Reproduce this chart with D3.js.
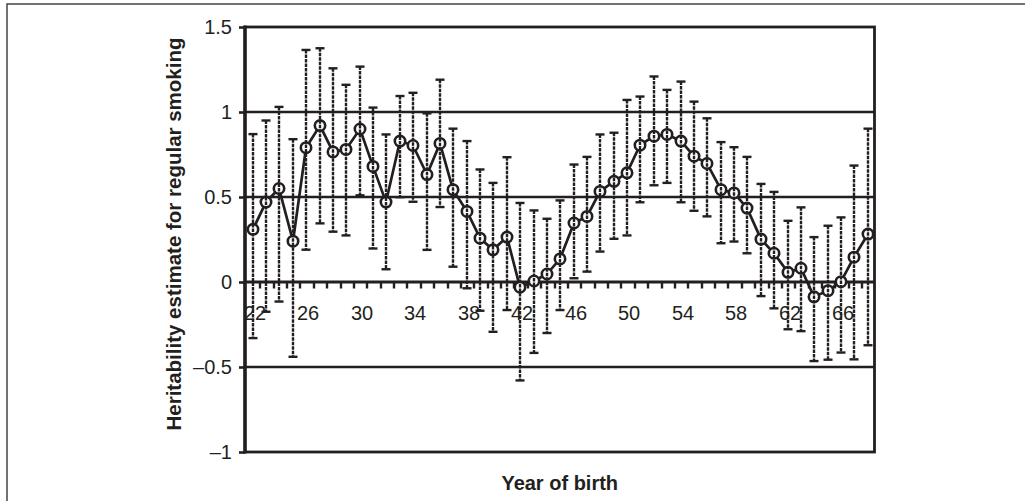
<!DOCTYPE html>
<html>
<head>
  <meta charset="utf-8">
  <title>Heritability by year of birth</title>
  <style>
    body { margin: 0; background: #fff; }
    svg text { font-family: "Liberation Sans", Arial, Helvetica, sans-serif; fill: #231f20; }
  </style>
  <script src="https://d3js.org/d3.v7.min.js"></script>
</head>
<body>
  <svg id="chart" width="1025" height="501"></svg>
  <script>
    // birth years (19xx) and estimates
    const years = d3.range(22, 69).map(String)
    const estimate = [0.31, 0.47, 0.55, 0.24, 0.79, 0.92, 0.765, 0.78, 0.90, 0.68,
      0.47, 0.829, 0.803, 0.632, 0.815, 0.543, 0.415, 0.258, 0.189, 0.264,
      -0.031, 0.006, 0.047, 0.136, 0.347, 0.386, 0.533, 0.592, 0.642, 0.805,
      0.858, 0.868, 0.829, 0.74, 0.697, 0.543, 0.524, 0.435, 0.252, 0.169,
      0.057, 0.081, -0.087, -0.051, 0.002, 0.146, 0.282]
    const upper = [0.87, 0.95, 1.03, 0.84, 1.365, 1.375, 1.257, 1.16, 1.267, 1.026,
      0.868, 1.094, 1.113, 0.992, 1.19, 0.902, 0.829, 0.662, 0.583, 0.734,
      0.465, 0.421, 0.372, 0.48, 0.691, 0.736, 0.868, 0.878, 1.071, 1.091,
      1.209, 1.13, 1.179, 1.061, 0.963, 0.823, 0.793, 0.736, 0.577, 0.53,
      0.36, 0.439, 0.264, 0.331, 0.38, 0.685, 0.902]
    const lower = [-0.33, -0.175, -0.115, -0.44, 0.19, 0.345, 0.296, 0.274, 0.51, 0.197,
      0.075, 0.499, 0.472, 0.189, 0.441, 0.09, -0.037, -0.169, -0.293, -0.165,
      -0.579, -0.417, -0.30, -0.165, 0.022, 0.061, 0.179, 0.254, 0.274, 0.469,
      0.569, 0.583, 0.469, 0.419, 0.386, 0.228, 0.238, 0.169, -0.083, -0.155,
      -0.278, -0.289, -0.465, -0.457, -0.415, -0.455, -0.372]
    const xLabels = ["22", "26", "30", "34", "38", "42", "46", "50", "54", "58", "62", "66"]
    const yTicks = [1.5, 1, 0.5, 0, -0.5, -1]
    const gridValues = [1, 0.5, -0.5]

    const ink = "#231f20"
    const svg = d3.select("#chart")

    const data = years.map((yr, i) => ({ yr: yr, est: estimate[i], hi: upper[i], lo: lower[i] }))

    const x = d3.scaleBand().domain(years).range([246, 874.5]).padding(0)
    const y = d3.scaleLinear().domain([-1, 1.5]).range([452, 27])
    const cx = d => Math.round(x(d) + x.bandwidth() / 2)

    // outer frame (only top/left are inside the picture)
    svg.append("path")
      .attr("d", "M7,501V4H1025")
      .attr("fill", "none").attr("stroke", "#444").attr("stroke-width", 1.5)

    // gridlines
    svg.append("g").selectAll("line").data(gridValues).join("line")
      .attr("x1", 245).attr("x2", 874.5)
      .attr("y1", d => y(d)).attr("y2", d => y(d))
      .attr("stroke", ink).attr("stroke-width", 2.4)

    // plot border
    svg.append("rect")
      .attr("x", 245).attr("y", y(1.5))
      .attr("width", 874.5 - 245).attr("height", y(-1) - y(1.5))
      .attr("fill", "none").attr("stroke", ink).attr("stroke-width", 2.8)
    svg.append("line")
      .attr("x1", 245).attr("x2", 245).attr("y1", y(1.5) - 1.4).attr("y2", y(-1) + 1.4)
      .attr("stroke", ink).attr("stroke-width", 3.4)

    // y axis ticks + labels
    const yAxis = d3.axisLeft(y).tickValues(yTicks).tickSize(6).tickPadding(7)
      .tickFormat(d => String(d).replace("-", "\u2013"))
    const gy = svg.append("g").attr("transform", "translate(245,0)").call(yAxis)
    gy.select(".domain").remove()
    gy.selectAll(".tick line").attr("stroke", ink).attr("stroke-width", 2.6)
    gy.selectAll(".tick text").attr("font-size", 20).attr("fill", ink)

    // x axis at zero
    svg.append("line")
      .attr("x1", 245).attr("x2", 874.5).attr("y1", y(0)).attr("y2", y(0))
      .attr("stroke", ink).attr("stroke-width", 2.8)
    svg.append("g").selectAll("line").data(years.slice(1)).join("line")
      .attr("x1", d => Math.round(x(d)) + 1).attr("x2", d => Math.round(x(d)) + 1)
      .attr("y1", y(0)).attr("y2", y(0) + 6.5)
      .attr("stroke", ink).attr("stroke-width", 2.4)
    svg.append("g").selectAll("text").data(xLabels).join("text")
      .attr("x", d => cx(d) + 2).attr("y", y(0) + 38)
      .attr("text-anchor", "middle").attr("font-size", 20)
      .text(d => d)

    // connecting line
    svg.append("path")
      .datum(data)
      .attr("d", d3.line().x(d => cx(d.yr)).y(d => y(d.est)))
      .attr("fill", "none").attr("stroke", ink).attr("stroke-width", 2.7)

    // markers
    svg.append("g").selectAll("circle").data(data).join("circle")
      .attr("cx", d => cx(d.yr)).attr("cy", d => y(d.est)).attr("r", 5.2)
      .attr("fill", "#fff").attr("stroke", ink).attr("stroke-width", 2.6)

    // error bars
    const eb = svg.append("g").selectAll("g").data(data).join("g")
    eb.append("line")
      .attr("x1", d => cx(d.yr)).attr("x2", d => cx(d.yr))
      .attr("y1", d => y(d.hi)).attr("y2", d => y(d.lo))
      .attr("stroke", ink).attr("stroke-width", 2.4).attr("stroke-dasharray", "3.5,1")
    eb.selectAll(".cap").data(d => [[d.yr, d.hi], [d.yr, d.lo]]).join("line")
      .attr("class", "cap")
      .attr("x1", d => cx(d[0]) - 4.5).attr("x2", d => cx(d[0]) + 4.5)
      .attr("y1", d => y(d[1])).attr("y2", d => y(d[1]))
      .attr("stroke", ink).attr("stroke-width", 2.4)

    // axis titles
    svg.append("text")
      .attr("x", (245 + 874.5) / 2).attr("y", 490)
      .attr("text-anchor", "middle").attr("font-size", 20).attr("font-weight", "bold")
      .text("Year of birth")
    svg.append("text")
      .attr("transform", "translate(181,234) rotate(-90)")
      .attr("text-anchor", "middle").attr("font-size", 20.5).attr("font-weight", "bold")
      .text("Heritability estimate for regular smoking")
  </script>
</body>
</html>
